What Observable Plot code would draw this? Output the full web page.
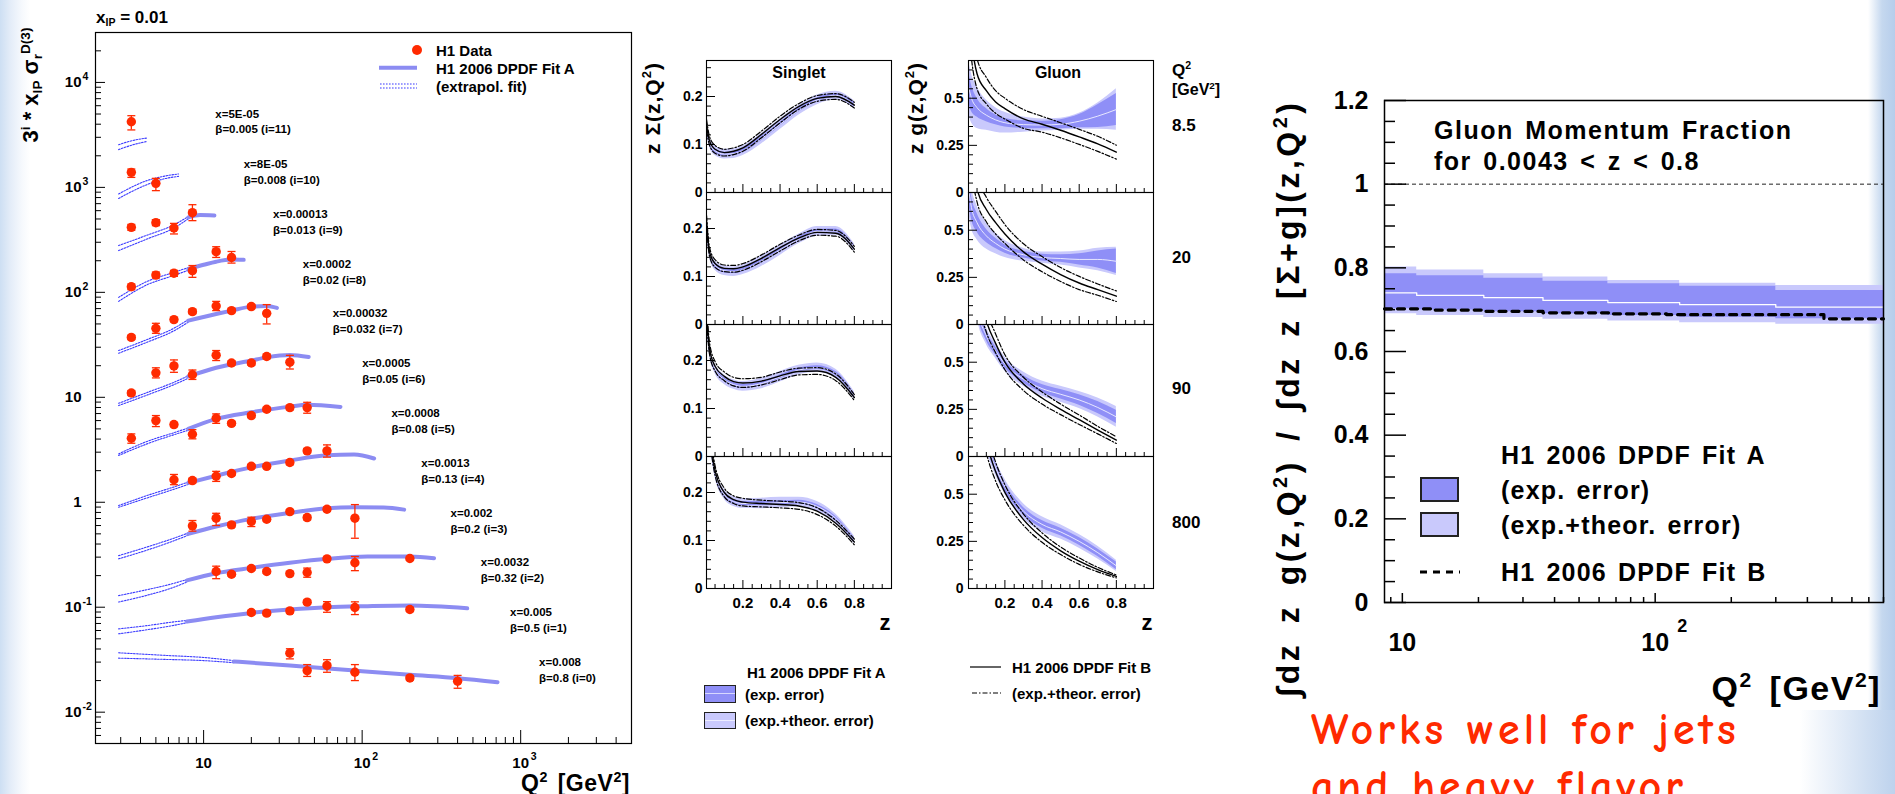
<!DOCTYPE html>
<html><head><meta charset="utf-8">
<script src="https://cdn.jsdelivr.net/npm/d3@7"></script>
<script src="https://cdn.jsdelivr.net/npm/@observablehq/plot@0.6"></script>
<style>
html,body{margin:0;padding:0;}
body{width:1895px;height:794px;overflow:hidden;position:relative;background:#fff;font-family:"Liberation Sans",Arial,Helvetica,sans-serif;}
.bg{position:absolute;}
.chart{position:absolute;top:0;}
.t{position:absolute;white-space:nowrap;line-height:1;font-weight:bold;color:#000;}
.t sup{font-size:0.62em;vertical-align:0.62em;line-height:0;}
.t sub{font-size:0.62em;vertical-align:-0.32em;line-height:0;}
.box{position:absolute;border:1.3px solid #222;box-sizing:border-box;}
.red{position:absolute;white-space:nowrap;line-height:1;color:#ff2a00;font-family:"Comic Sans MS","Comic Neue","DejaVu Sans",sans-serif;font-size:44px;font-weight:bold;letter-spacing:4px;}
</style></head><body>
<div class="bg" style="left:0;top:0;width:30px;height:794px;background:linear-gradient(to right,#cddff3 0,#e3ecf8 10px,#f6f9fd 22px,#fff 30px)"></div>
<div class="bg" style="left:1868px;top:0;width:27px;height:794px;background:linear-gradient(to right,#fff,#c5d8ef 14px,#b6cdeb)"></div>
<div class="bg" style="left:1800px;top:710px;width:95px;height:84px;background:linear-gradient(to right,#fff,#bdd2ed)"></div>

<div class="chart" id="cLeft" style="left:0"></div>
<div class="chart" id="cSinglet" style="left:640px"></div>
<div class="chart" id="cGluon" style="left:900px"></div>
<div class="chart" id="cFrac" style="left:1300px"></div>

<!-- left panel legend swatches -->
<svg style="position:absolute;left:370px;top:40px" width="60" height="55">
  <circle cx="47" cy="10" r="5" fill="#ff2a00"/>
  <line x1="9" y1="27.7" x2="47" y2="27.7" stroke="#8c8cf2" stroke-width="4"/>
  <line x1="10" y1="44" x2="47" y2="44" stroke="#3b3bff" stroke-width="1.1" stroke-dasharray="1.6,1.4"/>
  <line x1="10" y1="48" x2="47" y2="48" stroke="#3b3bff" stroke-width="1.1" stroke-dasharray="1.6,1.4"/>
</svg>
<!-- middle legend swatches -->
<div class="box" style="left:704px;top:685px;width:32px;height:18px;background:#8f8ff7"><div style="margin-top:7px;height:1px;background:#d8d8ff"></div></div>
<div class="box" style="left:704px;top:712px;width:32px;height:17px;background:#c9c9fc"><div style="margin-top:7px;height:1px;background:#ececff"></div></div>
<svg style="position:absolute;left:965px;top:660px" width="40" height="40">
  <line x1="5" y1="7" x2="36" y2="7" stroke="#000" stroke-width="1.2"/>
  <line x1="7" y1="33" x2="36" y2="33" stroke="#000" stroke-width="1.2" stroke-dasharray="5,2,1.5,2"/>
</svg>
<!-- right legend swatches -->
<div class="box" style="left:1420px;top:477px;width:39px;height:25px;background:#8f8ff7;border-width:2px"></div>
<div class="box" style="left:1420px;top:512px;width:39px;height:25px;background:#c9c9fc;border-width:2px"></div>
<svg style="position:absolute;left:1415px;top:565px" width="50" height="14">
  <line x1="5" y1="7" x2="45" y2="7" stroke="#000" stroke-width="3.2" stroke-dasharray="7,6"/>
</svg>

<div class="red" style="left:1311px;top:708px">Works well for jets</div>
<div class="red" style="left:1311px;top:765px">and heavy flavor</div>

<script>
// ---------------- LEFT PANEL DATA: H1 reduced cross section, x_IP = 0.01 ----------------
const binIndex = [11,10,9,8,7,6,5,4,3,2,1,0];
const binXLabel = ["5E-05","8E-05","0.00013","0.0002","0.00032","0.0005","0.0008","0.0013","0.002","0.0032","0.005","0.008"];
const binBeta = ["0.005","0.008","0.013","0.02","0.032","0.05","0.08","0.13","0.2","0.32","0.5","0.8"];
const dataQ2 = [
 [3.5],
 [3.5,5],
 [3.5,5,6.5,8.5],
 [3.5,5,6.5,8.5,12,15],
 [3.5,5,6.5,8.5,12,15,20,25],
 [3.5,5,6.5,8.5,12,15,20,25,35],
 [3.5,5,6.5,8.5,12,15,20,25,35,45],
 [6.5,8.5,12,15,20,25,35,45,60],
 [8.5,12,15,20,25,35,45,60,90],
 [12,15,20,25,35,45,60,90,200],
 [20,25,35,45,60,90,200],
 [35,45,60,90,200,400]
];
const dataSigma = [
 [4225],
 [1390,1092],
 [416,461,410,574],
 [113,146,152,161,244,215],
 [37.2,45.4,55,65.5,74.1,67,73.2,63.1],
 [11.0,17.1,19.9,16.4,25.2,21.2,21.2,24.5,21.6],
 [4.07,6.0,5.5,4.45,6.31,5.65,6.7,7.7,7.98,7.98],
 [1.64,1.61,1.77,1.88,2.20,2.20,2.39,3.09,3.09],
 [0.596,0.705,0.609,0.655,0.689,0.815,0.715,0.857,0.705],
 [0.219,0.206,0.234,0.219,0.209,0.214,0.289,0.265,0.291],
 [0.0891,0.0878,0.0923,0.1117,0.1016,0.0993,0.0951],
 [0.0365,0.0249,0.0279,0.0240,0.0212,0.0197]
];
const dataLo = [
 [3527],
 [1245,931],
 [390,432,360,482],
 [106,137,142,139,215,190],
 [35.5,40.7,52.5,62.5,67,64,70,50],
 [10.4,15.3,17.3,14.8,22.4,20.2,20.2,23.3,18.6],
 [3.65,5.26,5.25,4.02,5.65,5.4,6.4,7.35,7.6,7.05],
 [1.47,1.53,1.58,1.80,2.10,2.10,2.28,2.95,2.69],
 [0.53,0.60,0.58,0.587,0.66,0.78,0.68,0.82,0.454],
 [0.187,0.198,0.225,0.21,0.2,0.193,0.278,0.223,0.28],
 [0.085,0.084,0.088,0.107,0.0895,0.0851,0.091],
 [0.0322,0.0219,0.024,0.020,0.0202,0.0169]
];
const dataHi = [
 [4820],
 [1496,1219],
 [444,492,454,684],
 [120,156,162,180,272,245],
 [39,50.7,57.6,68.6,82,70,76.5,76.4],
 [11.6,19.1,22.7,18.2,27.9,22.3,22.3,25.8,25.1],
 [4.48,6.7,5.75,4.92,6.95,5.9,7.0,8.05,8.35,8.96],
 [1.84,1.69,1.97,1.96,2.30,2.30,2.50,3.24,3.52],
 [0.67,0.785,0.64,0.72,0.72,0.85,0.75,0.90,0.95],
 [0.246,0.215,0.243,0.228,0.218,0.236,0.3,0.304,0.302],
 [0.093,0.092,0.097,0.117,0.113,0.1125,0.0995],
 [0.0402,0.0284,0.0316,0.0284,0.0222,0.0224]
];
// Fit A (solid, fitted region)
const fitQ2 = [
 [], [],
 [8.0,9.5,11.7],
 [8.0,10,12,15,17.9],
 [8.0,12,15,20,25,29],
 [8.0,12,20,25,35,46],
 [8.0,12,20,35,45,73],
 [8.0,12,20,35,60,89,119],
 [8.0,12,20,35,60,90,137,184],
 [7.85,12,20,35,60,108,200,284],
 [7.85,12,20,35,60,108,200,460],
 [15.5,35,90,200,400,714]
];
const fitSigma = [
 [], [],
 [518,545,540],
 [167,183,196,205,204],
 [53.7,62.2,67,73.1,74.2,71],
 [15.8,19.1,22.4,24.0,25.3,24.2],
 [5.0,6.23,7.2,8.15,8.47,8.1],
 [1.53,1.79,2.15,2.50,2.80,2.85,2.61],
 [0.50,0.587,0.695,0.792,0.877,0.896,0.89,0.851],
 [0.18,0.211,0.237,0.265,0.289,0.304,0.304,0.293],
 [0.0731,0.0803,0.0883,0.0951,0.100,0.1023,0.1037,0.0977],
 [0.0304,0.0279,0.0249,0.0227,0.0211,0.0193]
];
// Fit A extrapolation (dotted band edges)
const extQ2 = [
 [2.91,3.55,4.39],
 [2.91,4.39,5.58,6.95],
 [2.91,4.39,6.5,8.05],
 [2.91,4.4,6.5,8.0],
 [2.91,4.4,6.5,8.0],
 [2.91,4.4,6.5,8.0],
 [2.91,4.4,6.5,8.0],
 [2.91,4.4,6.5,8.0],
 [2.91,4.4,6.5,8.0],
 [2.91,4.4,6.5,7.85],
 [2.91,4.4,6.5,7.85],
 [2.91,5.87,10,15.5]
];
const extLo = [
 [2290,2535,2740],
 [785,1062,1202,1274],
 [250,322,410,505],
 [82,118,145,162],
 [26.3,33.5,43,52],
 [8.34,10.5,13.2,15.2],
 [2.79,3.6,4.4,4.85],
 [0.896,1.1,1.33,1.48],
 [0.289,0.35,0.43,0.485],
 [0.112,0.13,0.155,0.174],
 [0.0558,0.061,0.0672,0.0712],
 [0.0327,0.0318,0.031,0.0296]
];
const extHi = [
 [2550,2790,2950],
 [865,1160,1274,1343],
 [279,350,440,530],
 [89.5,127,155,172],
 [27.9,35.5,45.5,55],
 [8.77,11.1,13.9,16.0],
 [2.89,3.8,4.6,5.1],
 [0.93,1.16,1.4,1.56],
 [0.31,0.375,0.455,0.51],
 [0.129,0.147,0.169,0.184],
 [0.0622,0.0668,0.0725,0.0748],
 [0.0368,0.0347,0.0332,0.031]
];
// annotation anchors (data space) for the bin labels
const labelAnchorQ2 = [11.86,17.9,27.4,42.2,65.3,100,153,236,361,560,857,1306];
const labelAnchorSigma = [4345,1436,480,161,54.3,18.2,6.10,2.05,0.681,0.231,0.0767,0.0258];

// ---------------- MIDDLE PANELS DATA: singlet and gluon DPDFs ----------------
const rowLabels = ["8.5","20","90","800"];
const zKnots = [0.0043,0.02,0.05,0.1,0.15,0.2,0.3,0.4,0.5,0.6,0.7,0.8];
const singletA = [
 [0.135,0.105,0.087,0.080,0.081,0.087,0.112,0.142,0.171,0.193,0.202,0.183],
 [0.215,0.150,0.123,0.112,0.110,0.114,0.132,0.155,0.178,0.194,0.195,0.160],
 [0.300,0.222,0.183,0.160,0.150,0.146,0.152,0.166,0.180,0.185,0.173,0.127],
 [0.420,0.330,0.242,0.196,0.181,0.177,0.177,0.179,0.180,0.171,0.146,0.101]
];
const singletB = [
 [0.140,0.108,0.090,0.083,0.086,0.093,0.121,0.152,0.179,0.196,0.200,0.182],
 [0.215,0.152,0.127,0.117,0.116,0.120,0.138,0.160,0.180,0.192,0.190,0.157],
 [0.300,0.226,0.188,0.167,0.156,0.153,0.157,0.168,0.177,0.178,0.165,0.123],
 [0.420,0.335,0.246,0.200,0.185,0.180,0.177,0.175,0.172,0.161,0.136,0.097]
];
const singletExpErr = [0.005,0.0045,0.004,0.004,0.004,0.004,0.004,0.004,0.004,0.004,0.004,0.004];
const singletThErr = [0.011,0.010,0.010,0.010,0.010,0.010,0.011,0.011,0.010,0.010,0.009,0.008];
const singletBErr = [
 [0.012,0.009,0.008,0.007,0.007,0.007,0.007,0.007,0.006,0.006,0.006,0.006],
 [0.012,0.009,0.008,0.007,0.007,0.007,0.007,0.007,0.006,0.006,0.006,0.006],
 [0.015,0.012,0.010,0.009,0.009,0.009,0.008,0.008,0.007,0.007,0.007,0.006],
 [0.015,0.012,0.010,0.009,0.008,0.008,0.007,0.007,0.007,0.007,0.006,0.006]
];
const gluonA = [
 [0.56,0.50,0.45,0.41,0.385,0.37,0.36,0.358,0.362,0.378,0.405,0.44],
 [0.72,0.62,0.54,0.47,0.43,0.40,0.37,0.355,0.35,0.345,0.345,0.335],
 [1.40,1.05,0.80,0.64,0.56,0.49,0.41,0.36,0.33,0.30,0.26,0.21],
 [1.60,1.30,1.00,0.78,0.64,0.54,0.41,0.34,0.30,0.25,0.19,0.12]
];
const gluonExpErr = [
 [0.08,0.07,0.05,0.035,0.026,0.022,0.02,0.02,0.024,0.035,0.06,0.085],
 [0.07,0.06,0.05,0.035,0.027,0.022,0.018,0.018,0.02,0.03,0.045,0.065],
 [0.05,0.04,0.03,0.025,0.022,0.02,0.02,0.022,0.025,0.028,0.032,0.035],
 [0.04,0.035,0.03,0.025,0.022,0.02,0.02,0.02,0.02,0.02,0.02,0.02]
];
const gluonThErr = [
 [0.14,0.13,0.11,0.08,0.065,0.055,0.04,0.032,0.032,0.042,0.07,0.11],
 [0.12,0.11,0.09,0.07,0.055,0.045,0.035,0.03,0.035,0.045,0.06,0.075],
 [0.08,0.07,0.06,0.045,0.04,0.038,0.038,0.04,0.042,0.045,0.05,0.055],
 [0.07,0.06,0.05,0.045,0.04,0.04,0.04,0.04,0.038,0.036,0.034,0.03]
];
const gluonB = [
 [0.95,0.80,0.63,0.54,0.48,0.445,0.39,0.362,0.33,0.295,0.258,0.214],
 [1.20,0.95,0.72,0.61,0.54,0.48,0.385,0.32,0.265,0.22,0.185,0.15],
 [1.60,1.25,0.95,0.72,0.60,0.50,0.385,0.31,0.25,0.195,0.14,0.087],
 [1.70,1.40,1.05,0.78,0.62,0.51,0.365,0.27,0.20,0.145,0.10,0.064]
];
const gluonBErr = [
 [0.08,0.09,0.08,0.07,0.06,0.055,0.05,0.042,0.04,0.04,0.04,0.037],
 [0.10,0.10,0.07,0.065,0.06,0.05,0.043,0.04,0.037,0.035,0.03,0.028],
 [0.10,0.10,0.09,0.06,0.05,0.04,0.035,0.032,0.028,0.025,0.02,0.018],
 [0.10,0.10,0.07,0.06,0.05,0.04,0.03,0.025,0.02,0.017,0.012,0.008]
];

// ---------------- RIGHT PANEL DATA: gluon momentum fraction ----------------
const fracQ2 = [8.5,11.4,21,36,65,125,300,800];
const fracA = [0.740,0.734,0.729,0.722,0.717,0.712,0.706,0.706];
const fracExpLo = [0.702,0.699,0.695,0.690,0.686,0.682,0.678,0.678];
const fracExpHi = [0.786,0.781,0.775,0.768,0.762,0.756,0.746,0.746];
const fracThLo = [0.690,0.686,0.681,0.677,0.673,0.669,0.665,0.665];
const fracThHi = [0.802,0.795,0.786,0.778,0.770,0.763,0.758,0.758];
const fracBQ2 = [8.5,13.3,21,36,67,111,465,800];
const fracB = [0.702,0.699,0.696,0.6925,0.690,0.688,0.678,0.678];
const momentumSum = [1];

// ---------------- helpers ----------------
const FONT = '"Liberation Sans", Arial, Helvetica, sans-serif';
const baseStyle = {fontFamily: FONT, fontWeight: "bold", color: "#000", background: "transparent", overflow: "visible"};
const RED = "#ff2a00";
const noText = () => "";
function put(html, x, y, {size = 14, anchor = "start", rotate = 0, weight = "bold", extra = ""} = {}) {
  const d = document.createElement("div");
  d.className = "t";
  d.innerHTML = html;
  const tx = anchor === "start" ? "0%" : anchor === "middle" ? "-50%" : "-100%";
  d.style.cssText = `left:${x}px;top:${y}px;font-size:${size}px;font-weight:${weight};transform:translate(${tx},-50%)${rotate ? ` rotate(${rotate}deg)` : ""};${extra}`;
  document.body.appendChild(d);
}
function logMinor(lo, hi) {
  const out = [];
  for (let e = -4; e <= 5; e++) for (let k = 2; k <= 9; k++) { const v = k * Math.pow(10, e); if (v >= lo && v <= hi) out.push(+v.toPrecision(3)); }
  return out;
}

// ---------------- LEFT PANEL ----------------
{
  const pts = binIndex.flatMap((bi, k) => dataQ2[k].map((q, j) => ({bin: bi, q2: q, s: dataSigma[k][j], lo: dataLo[k][j], hi: dataHi[k][j]})));
  const caps = pts.flatMap(d => [{q2: d.q2, v: d.lo}, {q2: d.q2, v: d.hi}]);
  const fitRows = binIndex.flatMap((bi, k) => fitQ2[k].map((q, j) => ({bin: bi, q2: q, s: fitSigma[k][j]})));
  const extRows = binIndex.flatMap((bi, k) => extQ2[k].map((q, j) => ({bin: bi, q2: q, lo: extLo[k][j], hi: extHi[k][j]})));
  const labels = binIndex.map((bi, k) => ({q2: labelAnchorQ2[k], s: labelAnchorSigma[k], text: `x=${binXLabel[k]}\nβ=${binBeta[k]} (i=${bi})`}));
  const capSymbol = {draw(ctx, size) { const r = Math.sqrt(size / Math.PI); ctx.moveTo(-r, 0); ctx.lineTo(r, 0); }};
  const yDom = [0.00503, 29900], xDom = [2.08, 5000];
  const powY = [0.01, 0.1, 100, 1000, 10000];
  const expY = {"0.01": "-2", "0.1": "-1", "100": "2", "1000": "3", "10000": "4"};
  const svg = Plot.plot({
    width: 650, height: 794, marginLeft: 95, marginRight: 19, marginTop: 32, marginBottom: 51,
    style: baseStyle,
    x: {type: "log", domain: xDom},
    y: {type: "log", domain: yDom},
    marks: [
      Plot.line(extRows, {x: "q2", y: "lo", z: "bin", stroke: "#3b3bff", strokeWidth: 1.1, strokeDasharray: "1.6,1.4", curve: "monotone-x"}),
      Plot.line(extRows, {x: "q2", y: "hi", z: "bin", stroke: "#3b3bff", strokeWidth: 1.1, strokeDasharray: "1.6,1.4", curve: "monotone-x"}),
      Plot.line(fitRows, {x: "q2", y: "s", z: "bin", stroke: "#8c8cf2", strokeWidth: 4, curve: "monotone-x"}),
      Plot.ruleX(pts, {x: "q2", y1: "lo", y2: "hi", stroke: RED, strokeWidth: 1.3}),
      Plot.dot(caps, {x: "q2", y: "v", symbol: capSymbol, r: 4, stroke: RED, fill: "none", strokeWidth: 1.3}),
      Plot.dot(pts, {x: "q2", y: "s", r: 4.7, fill: RED}),
      Plot.text(labels, {x: "q2", y: "s", text: "text", textAnchor: "start", lineAnchor: "middle", lineHeight: 1.38, fontSize: 11.5, fontWeight: "bold"}),
      Plot.frame({stroke: "#000", strokeWidth: 1.2}),
      Plot.axisY({ticks: [0.01, 0.1, 1, 10, 100, 1000, 10000], tickSize: -10, tickFormat: noText, label: null}),
      Plot.axisY({ticks: logMinor(yDom[0], yDom[1]), tickSize: -6, tickFormat: noText, label: null}),
      Plot.axisY({ticks: powY, tickSize: 0, tickPadding: 14, tickFormat: () => "10", fontSize: 15, label: null}),
      Plot.axisY({ticks: powY, tickSize: 0, tickPadding: 13, textAnchor: "start", dy: -6, tickFormat: d => expY[String(d)], fontSize: 10.5, label: null}),
      Plot.axisY({ticks: [1, 10], tickSize: 0, tickPadding: 14, tickFormat: d => String(d), fontSize: 15, label: null}),
      Plot.axisX({ticks: [10, 100, 1000], tickSize: -13, tickFormat: noText, label: null}),
      Plot.axisX({ticks: logMinor(xDom[0], xDom[1]), tickSize: -6, tickFormat: noText, label: null}),
      Plot.axisX({ticks: [10, 100, 1000], tickSize: 0, tickPadding: 14, tickFormat: () => "10", fontSize: 15, label: null}),
      Plot.axisX({ticks: [100, 1000], tickSize: 0, tickPadding: 9, textAnchor: "start", dx: 10, tickFormat: d => d === 100 ? "2" : "3", fontSize: 10.5, label: null})
    ]
  });
  document.getElementById("cLeft").appendChild(svg);
  put("x<sub>IP</sub> = 0.01", 96, 17, {size: 17});
  put("3<sup>i</sup> * x<sub>IP</sub> σ<sub>r</sub><sup>D(3)</sup>", 31, 85, {size: 22, anchor: "middle", rotate: -90});
  put("Q<sup>2</sup> [GeV<sup>2</sup>]", 630, 783, {size: 23, anchor: "end", extra: "letter-spacing:0.5px;word-spacing:3px"});
  put("H1 Data", 436, 50, {size: 15});
  put("H1 2006 DPDF Fit A", 436, 68, {size: 15});
  put("(extrapol. fit)", 436, 86, {size: 15, weight: "normal", extra: "font-weight:600"});
}

// ---------------- MIDDLE PANELS ----------------
function buildRows(A, AexpErr, AthErr, B, BErr) {
  return rowLabels.flatMap((row, r) => zKnots.map((z, j) => {
    const ee = Array.isArray(AexpErr[0]) ? AexpErr[r][j] : AexpErr[j];
    const te = Array.isArray(AthErr[0]) ? AthErr[r][j] : AthErr[j];
    return {row, z, a: A[r][j], eLo: A[r][j] - ee, eHi: A[r][j] + ee, tLo: A[r][j] - te, tHi: A[r][j] + te,
            b: B[r][j], bUp: B[r][j] + BErr[r][j], bDn: B[r][j] - BErr[r][j]};
  }));
}
const zMajor = [0.2, 0.4, 0.6, 0.8];
const zMinor = [0.05,0.1,0.15,0.25,0.3,0.35,0.45,0.5,0.55,0.65,0.7,0.75,0.85,0.9,0.95];
function pdfColumn(rows, {width, marginLeft, yDomain, yMajor, yMinor, yFmt, yPad}) {
  const base = {fy: "row", x: "z", curve: "monotone-x", clip: true};
  return Plot.plot({
    width, height: 638, marginLeft, marginRight: 12, marginTop: 59, marginBottom: 50,
    style: baseStyle,
    x: {domain: [0.004, 1]},
    y: {domain: yDomain},
    fy: {domain: rowLabels, padding: 0, axis: null},
    marks: [
      Plot.areaY(rows, {...base, y1: "tLo", y2: "tHi", fill: "#c9c9fc"}),
      Plot.areaY(rows, {...base, y1: "eLo", y2: "eHi", fill: "#8f8ff7"}),
      Plot.line(rows, {...base, y: "a", stroke: "#f0f0ff", strokeWidth: 0.9}),
      Plot.line(rows, {...base, y: "bUp", stroke: "#000", strokeWidth: 1.2, strokeDasharray: "5,2,1.5,2"}),
      Plot.line(rows, {...base, y: "bDn", stroke: "#000", strokeWidth: 1.2, strokeDasharray: "5,2,1.5,2"}),
      Plot.line(rows, {...base, y: "b", stroke: "#000", strokeWidth: 1.4}),
      Plot.frame({stroke: "#000", strokeWidth: 1.1}),
      Plot.axisY({ticks: yMajor, tickSize: -9, tickFormat: noText, label: null}),
      Plot.axisY({ticks: yMinor, tickSize: -5, tickFormat: noText, label: null}),
      Plot.axisY({ticks: yMajor, tickSize: 0, tickPadding: yPad, tickFormat: yFmt, fontSize: 14, label: null}),
      Plot.axisX({ticks: zMajor, tickSize: -8, tickFormat: noText, label: null, facetAnchor: null}),
      Plot.axisX({ticks: zMinor, tickSize: -4, tickFormat: noText, label: null, facetAnchor: null}),
      Plot.axisX({ticks: zMajor, tickSize: 0, tickPadding: 9, tickFormat: d => d.toFixed(1), fontSize: 15, label: null})
    ]
  });
}
{
  const sRows = buildRows(singletA, singletExpErr, singletThErr, singletB, singletBErr);
  const gRows = buildRows(gluonA, gluonExpErr, gluonThErr, gluonB, gluonBErr);
  document.getElementById("cSinglet").appendChild(pdfColumn(sRows, {
    width: 263, marginLeft: 66, yDomain: [0, 0.275], yMajor: [0, 0.1, 0.2],
    yMinor: [0.02,0.04,0.06,0.08,0.12,0.14,0.16,0.18,0.22,0.24,0.26], yFmt: d => d === 0 ? "0" : d.toFixed(1), yPad: 4}));
  document.getElementById("cGluon").appendChild(pdfColumn(gRows, {
    width: 265, marginLeft: 68, yDomain: [0, 0.7], yMajor: [0, 0.25, 0.5],
    yMinor: [0.05,0.1,0.15,0.2,0.3,0.35,0.4,0.45,0.55,0.6,0.65], yFmt: d => d === 0 ? "0" : String(d), yPad: 5}));
  put("z Σ(z,Q<sup>2</sup>)", 652, 108, {size: 21, anchor: "middle", rotate: -90, extra: "letter-spacing:1px"});
  put("z g(z,Q<sup>2</sup>)", 915, 108, {size: 21, anchor: "middle", rotate: -90, extra: "letter-spacing:1px"});
  put("Singlet", 799, 73, {size: 16, anchor: "middle"});
  put("Gluon", 1058, 73, {size: 16, anchor: "middle"});
  put("Q<sup>2</sup>", 1172, 70, {size: 17});
  put("[GeV<sup>2</sup>]", 1172, 90, {size: 16});
  const rowY = [125, 257, 388, 522];
  rowLabels.forEach((r, k) => put(r, 1172, rowY[k], {size: 17}));
  put("z", 885, 623, {size: 22, anchor: "middle"});
  put("z", 1147, 623, {size: 22, anchor: "middle"});
  put("H1 2006 DPDF Fit A", 747, 672, {size: 15});
  put("(exp. error)", 745, 694, {size: 15});
  put("(exp.+theor. error)", 745, 720, {size: 15});
  put("H1 2006 DPDF Fit B", 1012, 667, {size: 15});
  put("(exp.+theor. error)", 1012, 693, {size: 15});
}

// ---------------- RIGHT PANEL ----------------
{
  const rows = fracQ2.map((q, j) => ({q2: q, a: fracA[j], eLo: fracExpLo[j], eHi: fracExpHi[j], tLo: fracThLo[j], tHi: fracThHi[j]}));
  const bRows = fracBQ2.map((q, j) => ({q2: q, b: fracB[j]}));
  const yMajor = [0, 0.2, 0.4, 0.6, 0.8, 1, 1.2];
  const yMinor = [0.05,0.1,0.15,0.25,0.3,0.35,0.45,0.5,0.55,0.65,0.7,0.75,0.85,0.9,0.95,1.05,1.1,1.15];
  const xMinor = [9,20,30,40,50,60,70,80,90,200,300,400,500,600,700,800];
  const svg = Plot.plot({
    width: 595, height: 794, marginLeft: 84, marginRight: 12, marginTop: 100, marginBottom: 192,
    style: baseStyle,
    x: {type: "log", domain: [8.5, 800]},
    y: {domain: [0, 1.2]},
    marks: [
      Plot.areaY(rows, {x: "q2", y1: "tLo", y2: "tHi", fill: "#c9c9fc", curve: "step-after"}),
      Plot.areaY(rows, {x: "q2", y1: "eLo", y2: "eHi", fill: "#8f8ff7", curve: "step-after"}),
      Plot.line(rows, {x: "q2", y: "a", stroke: "#fff", strokeWidth: 1.3, curve: "step-after"}),
      Plot.line(bRows, {x: "q2", y: "b", stroke: "#000", strokeWidth: 3.2, strokeDasharray: "7,6", curve: "step-after"}),
      Plot.ruleY(momentumSum, {stroke: "#222", strokeWidth: 1, strokeDasharray: "4,3"}),
      Plot.frame({stroke: "#000", strokeWidth: 1.5}),
      Plot.axisY({ticks: yMajor, tickSize: -22, tickFormat: noText, label: null, strokeWidth: 1.5}),
      Plot.axisY({ticks: yMinor, tickSize: -11, tickFormat: noText, label: null, strokeWidth: 1.5}),
      Plot.axisY({ticks: yMajor, tickSize: 0, tickPadding: 16, tickFormat: d => String(d), fontSize: 25, label: null}),
      Plot.axisX({ticks: [10, 100], tickSize: -9, tickFormat: noText, label: null, strokeWidth: 1.5}),
      Plot.axisX({ticks: xMinor, tickSize: -5, tickFormat: noText, label: null, strokeWidth: 1.5}),
      Plot.axisX({ticks: [10, 100], tickSize: 0, tickPadding: 31, tickFormat: () => "10", fontSize: 25, label: null}),
      Plot.axisX({ticks: [100], tickSize: 0, tickPadding: 17, textAnchor: "start", dx: 22, tickFormat: () => "2", fontSize: 18, label: null})
    ]
  });
  document.getElementById("cFrac").appendChild(svg);
  put("∫dz z g(z,Q<sup>2</sup>) / ∫dz z [Σ+g](z,Q<sup>2</sup>)", 1288, 398, {size: 32, anchor: "middle", rotate: -90, extra: "letter-spacing:3.5px;word-spacing:6px"});
  const lg = "letter-spacing:1.2px;word-spacing:3px";
  put("Gluon Momentum Fraction", 1434, 130, {size: 25, extra: "letter-spacing:1.5px;word-spacing:3px"});
  put("for 0.0043 &lt; z &lt; 0.8", 1434, 161, {size: 25, extra: "letter-spacing:1.5px;word-spacing:3px"});
  put("H1 2006 DPDF Fit A", 1501, 455, {size: 25, extra: lg});
  put("(exp. error)", 1501, 490, {size: 25, extra: lg});
  put("(exp.+theor. error)", 1501, 525, {size: 25, extra: lg});
  put("H1 2006 DPDF Fit B", 1501, 572, {size: 25, extra: lg});
  put("Q<sup>2</sup> [GeV<sup>2</sup>]", 1881, 688, {size: 34, anchor: "end", extra: "letter-spacing:1.5px;word-spacing:6px"});
}
</script>
</body></html>
